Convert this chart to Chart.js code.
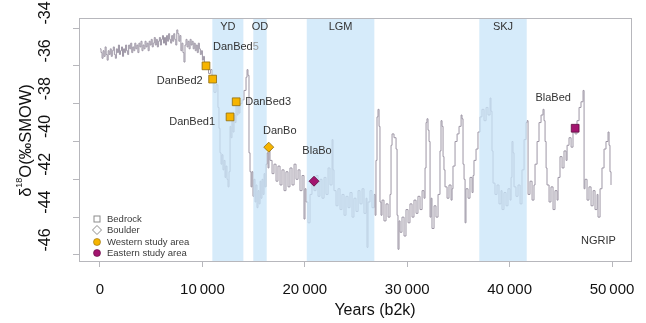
<!DOCTYPE html>
<html>
<head>
<meta charset="utf-8">
<title>NGRIP d18O</title>
<script src="https://cdn.jsdelivr.net/npm/chart.js@4.4.1/dist/chart.umd.min.js"></script>
<style>
    html, body { margin: 0; padding: 0; background: #ffffff; }
    #wrap { width: 646px; height: 323px; }
</style>
</head>
<body>
<div id="wrap"><canvas id="chart" width="646" height="323"></canvas></div>
<script>
// NGRIP record (years b2k, d18O permil)
const ngripAge = [
    0, 100, 200, 300, 400, 500, 600, 700, 800, 900, 1000, 1100, 1200, 1300, 1400, 1500, 1600,
    1700, 1800, 1900, 2000, 2100, 2200, 2300, 2400, 2500, 2600, 2700, 2800, 2900, 3000, 3100,
    3200, 3300, 3400, 3500, 3600, 3700, 3800, 3900, 4000, 4100, 4200, 4300, 4400, 4500, 4600,
    4700, 4800, 4900, 5000, 5100, 5200, 5300, 5400, 5500, 5600, 5700, 5800, 5900, 6000, 6100,
    6200, 6300, 6400, 6500, 6600, 6700, 6800, 6900, 7000, 7100, 7200, 7300, 7400, 7500, 7600,
    7700, 7800, 7900, 8000, 8100, 8200, 8300, 8400, 8500, 8600, 8700, 8800, 8900, 9000, 9100,
    9200, 9300, 9400, 9500, 9600, 9700, 9800, 9900, 10000, 10100, 10200,
    10400, 10600, 10800, 10950, 11130, 11330, 11520,
    11620, 11720, 11820, 11910, 12010, 12110, 12210, 12300, 12400, 12500, 12600, 12700, 12790,
    12890, 12990, 13090, 13180, 13280, 13380, 13480, 13570, 13670, 13870, 14060, 14260, 14360,
    14450, 14550, 14650, 14750, 14840, 14940, 15040, 15140, 15230, 15330, 15430, 15530, 15630,
    15720, 15820, 15920, 16020, 16110, 16210, 16310, 16410, 16500, 16600, 16800, 16990, 17190,
    17380, 17580, 17770, 17970, 18160, 18360, 18550, 18750, 18950, 19140, 19340, 19530, 19730,
    19920, 20020, 20120, 20310, 20510, 20700, 20900, 21090, 21290, 21480, 21680, 21880, 22070,
    22270, 22460, 22660, 22750, 22850, 23050, 23240, 23440, 23630, 23830, 24020, 24220, 24410,
    24610, 24800, 25000, 25200, 25390, 25590, 25780, 25980, 26070, 26170, 26370, 26560, 26760,
    26860, 26950, 27050, 27150, 27250, 27340, 27440, 27540, 27730, 27930, 28130, 28320, 28420,
    28520, 28710, 28910, 29010, 29100, 29200, 29300, 29490, 29690, 29880, 30080, 30270, 30470,
    30660, 30860, 31050, 31250, 31450, 31640, 31740, 31840, 31930, 32030, 32130, 32230, 32330,
    32420, 32620, 32810, 33010, 33200, 33300, 33400, 33500, 33590, 33690, 33890, 34080, 34280,
    34380, 34470, 34670, 34870, 35060, 35260, 35350, 35450, 35550, 35650, 35740, 35940, 36130,
    36330, 36430, 36520, 36720, 36910, 37110, 37300, 37500, 37700, 37890, 38090, 38180, 38280,
    38380, 38570, 38770, 38960, 39160, 39260, 39450, 39650, 39840, 40040, 40140, 40230, 40330,
    40430, 40620, 40820, 41020, 41210, 41410, 41600, 41700, 41800, 41990, 42190, 42380, 42480,
    42680, 42870, 43070, 43260, 43360, 43460, 43560, 43650, 43850, 44040, 44240, 44430, 44630,
    44730, 44920, 45120, 45310, 45510, 45610, 45800, 46000, 46190, 46390, 46580, 46780, 46970,
    47170, 47270, 47360, 47560, 47750, 47950, 48150, 48340, 48540, 48630, 48830, 49020, 49220,
    49410, 49610, 49710, 49800, 49900
];
const ngripD18O = [
    -35.1, -35.3, -35.6, -35.2, -35.5, -35.0, -35.4, -35.7, -35.2, -35.4, -35.1, -35.5, -35.2, -35.0, -35.4, -35.6, -35.1,
    -35.3, -34.9, -35.4, -35.2, -35.0, -35.5, -35.1, -35.3, -34.9, -35.2, -35.4, -34.9, -35.1, -34.8, -35.3,
    -35.0, -35.2, -34.8, -35.1, -34.9, -35.3, -34.8, -35.0, -34.7, -35.2, -34.9, -35.1, -34.7, -35.0, -34.8,
    -35.2, -34.7, -34.9, -34.6, -35.0, -34.8, -34.5, -34.9, -34.6, -35.0, -34.7, -34.5, -34.9, -34.6, -34.4,
    -34.8, -34.5, -34.9, -34.4, -34.7, -34.3, -34.6, -34.8, -34.4, -34.7, -34.3, -34.6, -34.9, -34.1, -34.3,
    -34.7, -34.4, -35.2, -34.8, -35.3, -35.8, -34.9, -34.6, -35.0, -34.7, -35.1, -34.6, -34.9, -34.7, -35.1,
    -34.8, -35.2, -34.9, -35.3, -34.8, -35.1, -35.4, -35.2, -35.7, -35.5, -35.9,
    -36.1, -36.4, -36.2, -36.8, -37.4, -37.0, -38.2,
    -39.3, -40.6, -41.2, -40.7, -41.5, -41.0, -41.9, -41.3, -42.0, -42.4, -41.6, -39.2, -39.8,
    -38.9, -39.5, -38.6, -39.0, -38.1, -38.6, -37.9, -38.5, -38.0, -37.8, -37.3, -36.6, -36.2,
    -36.5, -40.6, -41.6, -42.4, -41.6, -42.9, -42.0, -43.2, -42.3, -43.5, -42.6, -43.3, -42.1,
    -43.0, -42.0, -42.8, -41.7, -42.4, -41.2, -40.6, -41.4, -40.4, -41.0, -41.7, -41.2, -42.1,
    -41.3, -42.3, -41.5, -42.6, -41.6, -42.4, -41.4, -42.3, -41.2, -42.0, -41.5, -42.6, -41.8,
    -44.1, -42.5, -43.2, -44.3, -42.8, -42.2, -42.6, -41.8, -42.9, -42.0, -43.0, -41.9, -42.8,
    -41.4, -42.3, -39.9, -41.5, -42.6, -43.4, -42.5, -43.6, -42.8, -43.9, -42.9, -43.5, -42.7,
    -44.0, -43.0, -43.7, -42.6, -43.3, -42.5, -43.8, -43.0, -45.6, -43.2, -42.6, -43.5, -42.8,
    -43.9, -41.0, -38.7, -38.3, -39.2, -43.2, -43.9, -43.1, -44.2, -43.3, -44.0, -42.8, -40.2,
    -39.6, -39.8, -40.4, -43.9, -45.7, -44.2, -44.8, -44.0, -45.0, -43.6, -44.3, -43.3, -44.0,
    -43.1, -43.8, -42.9, -43.6, -42.6, -43.0, -41.4, -39.0, -38.8, -39.4, -40.0, -44.0, -43.0,
    -44.6, -43.4, -44.0, -42.8, -40.5, -38.9, -39.2, -40.8, -41.5, -42.4, -43.0, -42.3, -43.1,
    -42.5, -41.3, -40.0, -39.6, -39.2, -38.6, -38.8, -41.2, -42.0, -44.3, -42.5, -43.0, -41.9,
    -42.7, -41.8, -41.0, -40.4, -39.5, -38.7, -38.3, -38.9, -38.2, -38.6, -37.7, -38.4, -40.5,
    -42.2, -42.8, -42.3, -43.3, -42.6, -43.6, -42.7, -43.4, -42.5, -43.1, -41.9, -40.0, -40.6,
    -42.4, -42.9, -42.3, -43.3, -41.5, -39.9, -39.0, -38.9, -42.8, -42.1, -43.1, -42.3, -41.2,
    -40.0, -39.0, -38.6, -38.3, -38.9, -40.0, -41.4, -42.3, -43.2, -42.4, -43.6, -42.6, -43.1,
    -41.9, -40.8, -41.4, -40.5, -41.0, -40.2, -39.8, -40.3, -39.4, -39.6, -38.9, -38.2, -37.9,
    -37.3, -42.5, -42.0, -43.1, -42.4, -43.4, -42.6, -43.6, -42.8, -44.0, -42.5, -41.4, -40.4,
    -40.0, -39.5, -40.2, -41.6, -42.3
];

// Dated samples
const sampleNames = ['DanBed5', 'DanBed2', 'DanBed3', 'DanBed1', 'DanBo', 'BlaBo', 'BlaBed'];
const sampleAge = [10350, 11000, 13300, 12700, 16480, 20900, 46400];
const sampleD18O = [-36.0, -36.7, -37.9, -38.7, -40.3, -42.1, -39.3];
const sampleType = ['Bedrock', 'Bedrock', 'Bedrock', 'Bedrock', 'Boulder', 'Boulder', 'Bedrock'];
const sampleArea = ['Western', 'Western', 'Western', 'Western', 'Western', 'Eastern', 'Eastern'];

// Climate periods
const bandNames = ['YD', 'OD', 'LGM', 'SKJ'];
const bandStart = [10970, 14970, 20190, 37040];
const bandEnd = [14000, 16280, 26790, 41670];

// Axis ticks
const xTicks = [0, 10000, 20000, 30000, 40000, 50000];
const yTicks = [-46, -44, -42, -40, -38, -36, -34];

const FONT = "'Liberation Sans', Arial, sans-serif";
const areaColor = { Western: '#f6b400', Eastern: '#a3146f' };
const areaBorder = { Western: '#8d6b10', Eastern: '#5c0a3e' };

// label placement relative to the marker (pixels)
const labelLayout = {
    DanBed5: { dx: 7, dy: -19, align: 'left' },
    DanBed2: { dx: -10, dy: 2, align: 'right' },
    DanBed3: { dx: 9, dy: 0, align: 'left' },
    DanBed1: { dx: -15, dy: 5, align: 'right' },
    DanBo: { dx: 11, dy: -16, align: 'center' },
    BlaBo: { dx: 3, dy: -30, align: 'center' },
    BlaBed: { dx: -22, dy: -30, align: 'center' }
};

function formatThousands(v) {
    if (v === 0) return '0';
    const s = String(v);
    return s.slice(0, s.length - 3) + '\u2009' + s.slice(-3);
}

const overlayPlugin = {
    id: 'overlay',
    afterDatasetDraw(chart, args) {
        // shade the periods over the NGRIP line, under the markers
        if (args.index !== 0) return;
        const { ctx, chartArea: a, scales: { x } } = chart;
        ctx.save();
        ctx.fillStyle = 'rgba(200, 228, 248, 0.75)';
        bandNames.forEach((name, i) => {
            const x0 = x.getPixelForValue(bandStart[i]);
            const x1 = x.getPixelForValue(bandEnd[i]);
            ctx.fillRect(x0, a.top, x1 - x0, a.bottom - a.top);
        });
        ctx.restore();
    },
    afterDraw(chart) {
        const { ctx, chartArea: a, scales: { x, y } } = chart;
        ctx.save();

        // frame
        ctx.strokeStyle = '#b7b7bc';
        ctx.lineWidth = 1;
        ctx.strokeRect(a.left + 0.5, a.top + 0.5, a.right - a.left - 1, a.bottom - a.top);

        // period names
        ctx.fillStyle = '#333333';
        ctx.font = '11px ' + FONT;
        ctx.textAlign = 'center';
        ctx.textBaseline = 'middle';
        bandNames.forEach((name, i) => {
            const cx = (x.getPixelForValue(bandStart[i]) + x.getPixelForValue(bandEnd[i])) / 2;
            ctx.fillText(name, cx, a.top + 9);
        });

        // sample names
        sampleNames.forEach((name, i) => {
            const l = labelLayout[name];
            const px = x.getPixelForValue(sampleAge[i]) + l.dx;
            const py = y.getPixelForValue(sampleD18O[i]) + l.dy;
            ctx.textAlign = l.align;
            if (name === 'DanBed5') {
                ctx.fillStyle = '#333333';
                ctx.fillText('DanBed', px, py);
                const w = ctx.measureText('DanBed').width;
                ctx.fillStyle = '#9a9a9a';
                ctx.fillText('5', px + w, py);
            } else {
                ctx.fillStyle = '#333333';
                ctx.fillText(name, px, py);
            }
        });

        ctx.fillStyle = '#333333';
        ctx.textAlign = 'left';
        ctx.fillText('NGRIP', a.right - 51, a.bottom - 20);

        // legend
        const lx = a.left + 18;
        const rows = [a.bottom - 42, a.bottom - 31, a.bottom - 19, a.bottom - 8];
        ctx.lineWidth = 1;
        ctx.strokeStyle = '#8c8c8c';
        ctx.strokeRect(lx - 3, rows[0] - 3, 6, 6);
        ctx.beginPath();
        ctx.moveTo(lx, rows[1] - 4.5);
        ctx.lineTo(lx + 4.5, rows[1]);
        ctx.lineTo(lx, rows[1] + 4.5);
        ctx.lineTo(lx - 4.5, rows[1]);
        ctx.closePath();
        ctx.stroke();
        [['Western', rows[2]], ['Eastern', rows[3]]].forEach(([area, ry]) => {
            ctx.beginPath();
            ctx.arc(lx, ry, 3.5, 0, Math.PI * 2);
            ctx.fillStyle = areaColor[area];
            ctx.fill();
            ctx.strokeStyle = areaBorder[area];
            ctx.lineWidth = 0.6;
            ctx.stroke();
        });
        ctx.fillStyle = '#3a3a3a';
        ctx.font = '9.5px ' + FONT;
        ctx.textAlign = 'left';
        ['Bedrock', 'Boulder', 'Western study area', 'Eastern study area'].forEach((t, i) => {
            ctx.fillText(t, lx + 10, rows[i]);
        });

        // axis titles
        ctx.fillStyle = '#111111';
        ctx.font = '16px ' + FONT;
        ctx.textAlign = 'center';
        ctx.fillText('Years (b2k)', 375, 311);

        ctx.translate(26, (a.top + a.bottom) / 2 + 1);
        ctx.rotate(-Math.PI / 2);
        ctx.textAlign = 'left';
        const big = '16.5px ' + FONT;
        const small = '9px ' + FONT;
        ctx.font = big;
        const w1 = ctx.measureText('\u03b4').width;
        ctx.font = small;
        const w2 = ctx.measureText('18').width;
        ctx.font = big;
        const w3 = ctx.measureText('O(\u2030SMOW)').width;
        let cx = -(w1 + w2 + w3) / 2;
        ctx.fillText('\u03b4', cx, 0);
        cx += w1;
        ctx.font = small;
        ctx.fillText('18', cx, -6);
        cx += w2;
        ctx.font = big;
        ctx.fillText('O(\u2030SMOW)', cx, 0);

        ctx.restore();
    }
};

function noEdgePadding(scale) {
    scale.paddingTop = 0;
    scale.paddingBottom = 0;
    scale.paddingLeft = 0;
    scale.paddingRight = 0;
}

function buildChart() {
    const ctx = document.getElementById('chart').getContext('2d');
    Chart.defaults.font.family = FONT;

    return new Chart(ctx, {
        type: 'line',
        data: {
            datasets: [
                {
                    label: 'NGRIP',
                    data: ngripAge.map((a, i) => ({ x: a, y: ngripD18O[i] })),
                    borderColor: '#9d96a5',
                    borderWidth: 1,
                    pointRadius: 0,
                    stepped: true,
                    fill: false,
                    order: 1
                },
                {
                    label: 'Samples',
                    data: sampleAge.map((a, i) => ({ x: a, y: sampleD18O[i] })),
                    showLine: false,
                    pointStyle: sampleType.map(t => (t === 'Bedrock' ? 'rect' : 'rectRot')),
                    pointRadius: sampleType.map(t => (t === 'Bedrock' ? 5.5 : 5)),
                    pointBackgroundColor: sampleArea.map(a => areaColor[a]),
                    pointBorderColor: sampleArea.map(a => areaBorder[a]),
                    pointBorderWidth: 0.8,
                    order: 0
                }
            ]
        },
        options: {
            responsive: false,
            animation: false,
            events: [],
            layout: { padding: { top: 18, right: 14, left: 0, bottom: 0 } },
            plugins: {
                legend: { display: false },
                tooltip: { enabled: false }
            },
            scales: {
                x: {
                    type: 'linear',
                    min: -2050,
                    max: 51950,
                    afterBuildTicks: scale => { scale.ticks = xTicks.map(v => ({ value: v })); },
                    afterFit: scale => { scale.height = 62; noEdgePadding(scale); },
                    border: { display: false },
                    grid: { display: true, drawOnChartArea: false, drawTicks: true, tickLength: 6, color: '#b7b7bc' },
                    ticks: {
                        color: '#111111',
                        font: { size: 15 },
                        padding: 14,
                        maxRotation: 0,
                        callback: v => formatThousands(v)
                    }
                },
                y: {
                    type: 'linear',
                    min: -46.32,
                    max: -33.47,
                    afterBuildTicks: scale => { scale.ticks = yTicks.map(v => ({ value: v })); },
                    afterFit: scale => { scale.width = 79; noEdgePadding(scale); },
                    border: { display: false },
                    grid: { display: true, drawOnChartArea: false, drawTicks: true, tickLength: 6, color: '#b7b7bc' },
                    ticks: {
                        color: '#111111',
                        font: { size: 16 },
                        minRotation: 90,
                        maxRotation: 90,
                        crossAlign: 'center',
                        padding: 16,
                        labelOffset: -15,
                        callback: v => String(v)
                    }
                }
            }
        },
        plugins: [overlayPlugin]
    });
}

document.addEventListener('DOMContentLoaded', () => {
    buildChart();
});
</script>
</body>
</html>
